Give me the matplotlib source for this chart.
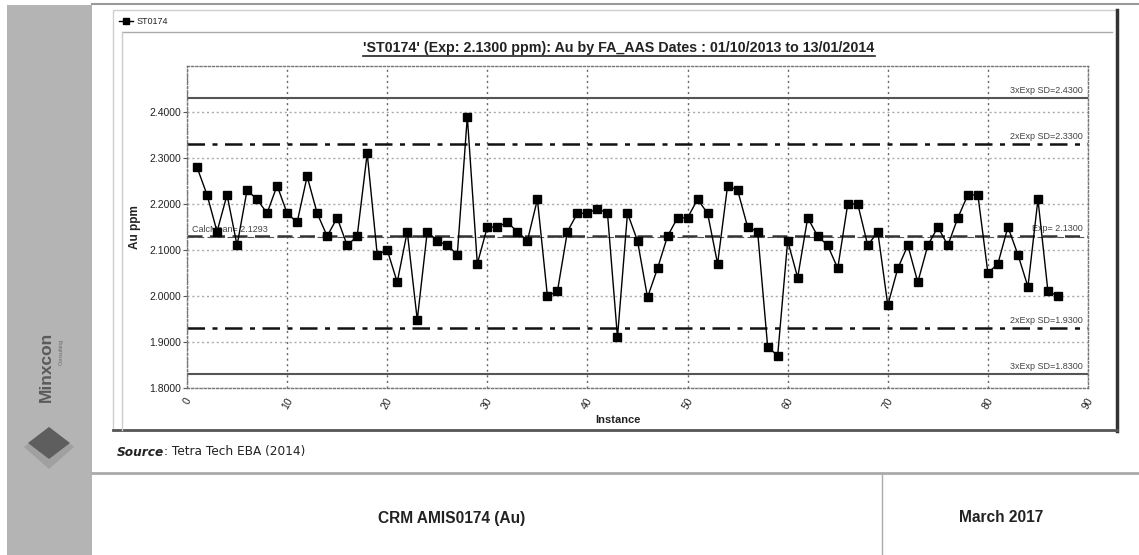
import matplotlib
matplotlib.use("Agg")
import matplotlib.pyplot as plt
from matplotlib.patches import Rectangle, Polygon

# ---------------- data ----------------
instance = list(range(1, 88))
au_ppm = [2.28, 2.22, 2.14, 2.22, 2.11, 2.23, 2.21, 2.18, 2.24, 2.18,
          2.16, 2.26, 2.18, 2.13, 2.17, 2.11, 2.13, 2.31, 2.09, 2.10,
          2.03, 2.14, 1.948, 2.14, 2.12, 2.11, 2.09, 2.39, 2.07, 2.15,
          2.15, 2.16, 2.14, 2.12, 2.21, 2.00, 2.01, 2.14, 2.18, 2.18,
          2.19, 2.18, 1.91, 2.18, 2.12, 1.997, 2.06, 2.13, 2.17, 2.17,
          2.21, 2.18, 2.07, 2.24, 2.23, 2.15, 2.14, 1.89, 1.87, 2.12,
          2.04, 2.17, 2.13, 2.11, 2.06, 2.20, 2.20, 2.11, 2.14, 1.98,
          2.06, 2.11, 2.03, 2.11, 2.15, 2.11, 2.17, 2.22, 2.22, 2.05,
          2.07, 2.15, 2.09, 2.02, 2.21, 2.01, 2.00]
expected = 2.13
calc_mean = 2.1293
sd2_hi, sd2_lo = 2.33, 1.93
sd3_hi, sd3_lo = 2.43, 1.83
y_ticks = [1.8, 1.9, 2.0, 2.1, 2.2, 2.3, 2.4]
x_ticks = [0, 10, 20, 30, 40, 50, 60, 70, 80, 90]
series_name = "ST0174"
title = "'ST0174' (Exp: 2.1300 ppm): Au by FA_AAS Dates : 01/10/2013 to 13/01/2014"

W, H = 1139, 555
fig = plt.figure(figsize=(W / 100, H / 100), dpi=100)
fig.patch.set_facecolor("white")

# ---------------- page decoration (pixel coords) ----------------
bg = fig.add_axes([0, 0, 1, 1], zorder=0)
bg.set_xlim(0, W)
bg.set_ylim(H, 0)
bg.axis("off")

# sidebar
bg.add_patch(Rectangle((7, 5), 85, H - 5, facecolor="#b4b4b4", edgecolor="none"))
bg.text(46, 367, "Minxcon", rotation=90, ha="center", va="center",
        fontsize=12.5, fontweight="bold", color="#5a5a5a", family="Liberation Sans")
bg.text(61, 352, "Consulting", rotation=90, ha="center", va="center",
        fontsize=4, color="#6a6a6a", family="Liberation Sans")
bg.add_patch(Polygon([(24, 447), (49, 427), (74, 447), (49, 469)], closed=True,
                     facecolor="#a0a0a0", edgecolor="none", joinstyle="round"))
bg.add_patch(Polygon([(28, 443), (49, 427), (70, 443), (49, 459)], closed=True,
                     facecolor="#5e5e5e", edgecolor="none", joinstyle="round"))

# top rule
bg.plot([92, W], [4, 4], color="#9a9a9a", lw=1.5)

# chart panel
bg.add_patch(Rectangle((113, 10), 1004, 420, facecolor="white", edgecolor="#cfcfcf", lw=1))
bg.plot([1117, 1117], [10, 431], color="#333333", lw=2.5)
bg.plot([113, 1117], [430, 430], color="#555555", lw=2)
bg.plot([122, 1112], [32, 32], color="#aaaaaa", lw=1)
bg.plot([122, 122], [32, 430], color="#cccccc", lw=1)
bg.plot([119, 133], [21, 21], color="black", lw=1)
bg.plot([126], [21], marker="s", color="black", ms=4)
bg.text(137, 21, series_name, fontsize=6.5, va="center", ha="left",
        family="Liberation Sans", color="#222222")

# source line
t1 = bg.text(117, 452, "Source", fontsize=8.7, fontweight="bold", style="italic",
             va="center", ha="left", family="DejaVu Sans", color="#222222")
fig.canvas.draw()
bb = t1.get_window_extent()
x_end = bb.x1  # display pixels == image pixels at dpi 100
bg.text(x_end, 452, ": Tetra Tech EBA (2014)", fontsize=8.7, va="center", ha="left",
        family="DejaVu Sans", color="#222222")

# footer
bg.plot([92, W], [473, 473], color="#aaaaaa", lw=2)
bg.plot([882, 882], [473, H], color="#aaaaaa", lw=1)
bg.text(452, 518, "CRM AMIS0174 (Au)", fontsize=11.2, fontweight="bold",
        ha="center", va="center", family="Liberation Sans", color="#222222")
bg.text(1001, 518, "March 2017", fontsize=11.2, fontweight="bold",
        ha="center", va="center", family="Liberation Sans", color="#222222")

# ---------------- chart ----------------
left, right, top, bottom = 187, 1088, 66, 388
ax = fig.add_axes([left / W, 1 - bottom / H, (right - left) / W, (bottom - top) / H], zorder=2)
ax.patch.set_alpha(0)
ax.set_xlim(0, 90)
ax.set_ylim(1.8, 2.5)

for s in ax.spines.values():
    s.set_linestyle((0, (1.5, 1.5)))
    s.set_color("#777777")
    s.set_linewidth(1)

ax.set_yticks(y_ticks)
ax.set_yticklabels([f"{v:.4f}" for v in y_ticks], fontsize=7.5, family="Liberation Sans", color="#222222")
ax.set_xticks(x_ticks)
ax.set_xticklabels([str(v) for v in x_ticks], fontsize=7.5, family="Liberation Sans",
                   rotation=60, ha="center", va="top", color="#222222")
ax.tick_params(axis="y", length=3, width=0.8, color="#555555", pad=1)
ax.tick_params(axis="x", length=0, pad=6)

ax.grid(axis="x", linestyle=(0, (1.5, 2.5)), color="#666666", lw=1)
ax.grid(axis="y", linestyle=(0, (1.5, 2)), color="#aaaaaa", lw=1)

# control lines
ax.axhline(sd3_hi, color="#555555", lw=1.5)
ax.axhline(sd3_lo, color="#555555", lw=1.5)
ax.axhline(sd2_hi, color="#111111", lw=1.8, linestyle=(0, (7, 3, 2, 3)))
ax.axhline(sd2_lo, color="#111111", lw=1.8, linestyle=(0, (7, 3, 2, 3)))
ax.axhline(expected, color="#333333", lw=1.8, linestyle=(0, (6, 3)))
ax.axhline(calc_mean, color="#555555", lw=0.8, linestyle=(0, (6, 3)))

lab_kw = dict(fontsize=6.5, family="Liberation Sans", color="#444444", va="bottom")
ax.text(89.5, sd3_hi + 0.006, f"3xExp SD={sd3_hi:.4f}", ha="right", **lab_kw)
ax.text(89.5, sd2_hi + 0.006, f"2xExp SD={sd2_hi:.4f}", ha="right", **lab_kw)
ax.text(89.5, expected + 0.006, f"Exp= {expected:.4f}", ha="right", **lab_kw)
ax.text(89.5, sd2_lo + 0.006, f"2xExp SD={sd2_lo:.4f}", ha="right", **lab_kw)
ax.text(89.5, sd3_lo + 0.006, f"3xExp SD={sd3_lo:.4f}", ha="right", **lab_kw)
ax.text(0.5, calc_mean + 0.006, f"CalcMean= {calc_mean:.4f}", ha="left", **lab_kw)

ax.plot(instance, au_ppm, color="black", lw=1, marker="s", ms=5.5,
        markerfacecolor="black", markeredgecolor="black", zorder=5)

ax.set_ylabel("Au ppm", fontsize=8.5, fontweight="bold", family="Liberation Sans",
              labelpad=6, color="#222222")
ax.set_xlabel("Instance", fontsize=8, fontweight="bold", family="Liberation Sans",
              color="#222222", labelpad=2)
ax.xaxis.set_label_coords(0.478, -0.085)

fig.text(619 / W, 1 - 48 / H, title, fontsize=10.3, fontweight="bold", ha="center", va="center",
         family="Liberation Sans", color="#222222")
# underline for the title
fig.canvas.draw()
tt = fig.texts[-1].get_window_extent()
bg.plot([tt.x0, tt.x1], [H - tt.y0 + 1, H - tt.y0 + 1], color="#222222", lw=1.2)

fig.savefig("out.png", dpi=100)
